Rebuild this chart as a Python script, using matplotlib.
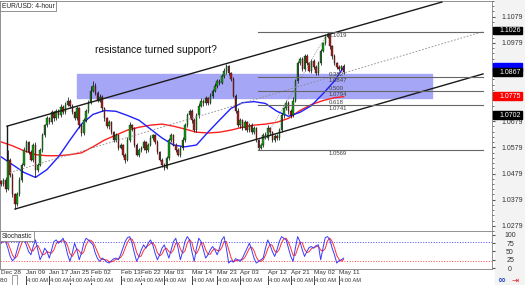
import numpy as np
import pandas as pd
import matplotlib
matplotlib.use("Agg")
import matplotlib.pyplot as plt
import matplotlib.transforms as mtransforms
from matplotlib.patches import Rectangle

plt.rcParams['font.family'] = ['Liberation Sans', 'DejaVu Sans']

# EUR/USD 4-hour closes (one per candle)
closes = [
    1.0438, 1.0456, 1.0419, 1.0532, 1.0475, 1.0400, 1.0362, 1.0400,
    1.0456, 1.0513, 1.0569, 1.0600, 1.0562, 1.0532, 1.0588, 1.0494,
    1.0513, 1.0569, 1.0626, 1.0664, 1.0690, 1.0675, 1.0713,
    1.0690, 1.0720, 1.0701, 1.0735, 1.0713, 1.0743, 1.0758,
    1.0739, 1.0713, 1.0690, 1.0728, 1.0664, 1.0634, 1.0683, 1.0720,
    1.0750, 1.0796, 1.0815, 1.0788, 1.0758, 1.0773,
    1.0728, 1.0690, 1.0660, 1.0675,
    1.0637, 1.0607, 1.0626, 1.0577, 1.0588, 1.0551, 1.0532,
    1.0607, 1.0664, 1.0652,
    1.0588, 1.0551, 1.0569,
    1.0577, 1.0600, 1.0569, 1.0588, 1.0615, 1.0626, 1.0600,
    1.0562, 1.0532, 1.0513, 1.0501,
    1.0539, 1.0607, 1.0626, 1.0588, 1.0569, 1.0551,
    1.0577, 1.0607, 1.0664, 1.0701,
    1.0720, 1.0683, 1.0645,
    1.0701, 1.0739, 1.0758, 1.0747, 1.0766, 1.0750,
    1.0777, 1.0796, 1.0815, 1.0833, 1.0826, 1.0852, 1.0871, 1.0890, 1.0864, 1.0841,
    1.0777, 1.0720, 1.0664,
    1.0683, 1.0652, 1.0675, 1.0645, 1.0664, 1.0637, 1.0652,
    1.0607, 1.0577, 1.0588,
    1.0626, 1.0615, 1.0652, 1.0637, 1.0607, 1.0622,
    1.0615, 1.0645, 1.0701, 1.0728,
    1.0750, 1.0720, 1.0701, 1.0758,
    1.0833, 1.0901,
    1.0916, 1.0879, 1.0928, 1.0901, 1.0871, 1.0909, 1.0886, 1.0864, 1.0901,
    1.0947, 1.0977, 1.1003, 1.1011,
    1.0965, 1.0928, 1.0901, 1.0886,
    1.0879, 1.0890, 1.0867,
]
first_open = 1.0450

# upper / lower wicks in pips
wick_hi = [6, 5, 8, 37, 7, 5, 6, 9, 8, 6,
           10, 7, 5, 8, 6, 12, 5, 9, 7, 6,
           8, 5, 10, 6, 7, 5, 9, 6, 8, 12,
           7, 5, 6, 9, 5, 4, 8, 7, 10, 18,
           18, 9, 6, 10, 5, 4, 7, 8, 6, 5,
           9, 6, 8, 5, 7, 10, 12, 6, 5, 8,
           7, 9, 6, 5, 8, 10, 6, 5, 7, 4,
           6, 5, 8, 9, 7, 5, 6, 8, 6, 10,
           8, 9, 6, 5, 7, 9, 8, 10, 6, 8,
           7, 9, 8, 10, 6, 9, 8, 11, 7, 6,
           5, 6, 5, 9, 8, 6, 10, 5, 8, 7,
           9, 6, 5, 8, 7, 10, 12, 6, 5, 8,
           7, 9, 8, 6, 10, 7, 6, 12, 9, 8,
           10, 8, 7, 9, 6, 8, 10, 7, 9, 8,
           7, 9, 8, 6, 7, 8, 5, 9, 6, 7]
wick_lo = [8, 6, 10, 5, 9, 12, 19, 7, 6, 8,
           5, 9, 7, 6, 10, 27, 8, 5, 7, 9,
           6, 8, 5, 9, 7, 10, 6, 8, 5, 7,
           9, 6, 8, 5, 10, 12, 7, 6, 8, 5,
           6, 9, 7, 5, 8, 10, 6, 9, 7, 8,
           6, 10, 5, 8, 12, 7, 6, 9, 8, 6,
           9, 7, 8, 10, 6, 5, 8, 9, 7, 6,
           8, 10, 6, 9, 7, 5, 8, 6, 9, 7,
           6, 8, 10, 12, 6, 7, 9, 5, 8, 6,
           7, 5, 8, 6, 9, 7, 5, 6, 10, 8,
           9, 7, 8, 6, 10, 7, 5, 9, 8, 6,
           7, 8, 8, 6, 9, 5, 7, 10, 6, 8,
           6, 9, 7, 8, 5, 12, 9, 6, 7, 8,
           8, 6, 9, 7, 5, 8, 6, 9, 7, 6,
           5, 7, 6, 8, 10, 6, 7, 9, 5, 6]

# moving averages, read every 5 candles
ma_idx = [0, 5, 10, 15, 20, 25, 30, 35, 40, 45, 50, 55, 60, 65, 70, 75,
          80, 85, 90, 95, 100, 105, 110, 115, 120, 125, 130, 135, 140, 145, 149]
blue_ma = [1.0543, 1.0513, 1.0483, 1.0464, 1.0494, 1.0543, 1.0607, 1.0668,
           1.0705, 1.0720, 1.0717, 1.0701, 1.0683, 1.0649, 1.0615, 1.0588,
           1.0581, 1.0588, 1.0637, 1.0683, 1.0728, 1.0750, 1.0754, 1.0747,
           1.0717, 1.0698, 1.0713, 1.0739, 1.0784, 1.0833, 1.0886]
red_ma = [1.0600, 1.0585, 1.0566, 1.0551, 1.0547, 1.0547, 1.0551, 1.0558,
          1.0581, 1.0607, 1.0626, 1.0645, 1.0656, 1.0664, 1.0668, 1.0660,
          1.0649, 1.0637, 1.0634, 1.0637, 1.0645, 1.0656, 1.0664, 1.0668,
          1.0675, 1.0690, 1.0720, 1.0743, 1.0758, 1.0769, 1.0773]

# stochastic %K
stoch_k = [75, 85, 80, 60, 35, 22, 30, 55, 80, 90,
           88, 70, 50, 40, 65, 85, 55, 25, 40, 60,
           50, 30, 55, 80, 85, 75, 82, 90, 70, 40,
           20, 45, 75, 55, 25, 45, 75, 90, 85, 78,
           70, 45, 28, 20, 30, 25, 18, 15, 22, 28,
           30, 25, 40, 60, 80, 92, 95, 75, 45, 20,
           35, 55, 70, 60, 75, 85, 70, 45, 25, 40,
           60, 70, 50, 30, 55, 80, 90, 60, 25, 50,
           80, 95, 85, 50, 20, 60, 90, 80, 55, 30,
           40, 55, 65, 55, 40, 60, 85, 95, 60, 15,
           22, 18, 28, 25, 20, 30, 45, 60, 75, 55,
           30, 15, 20, 25, 30, 60, 85, 70, 50, 35,
           55, 80, 95, 90, 85, 60, 35, 20, 60, 95,
           80, 55, 35, 50, 62, 65, 60, 68, 70, 25,
           60, 92, 95, 85, 60, 40, 15, 22, 25, 30]

fib_levels = [1.1019, 1.0847, 1.0794, 1.0741, 1.0569]
fib_names = ['', '0.382', '0.500', '0.618', '']
zone_lo, zone_hi = 1.0766, 1.0860

price_ticks = [1.0279, 1.0379, 1.0479, 1.0579, 1.0679, 1.0779, 1.0879, 1.0979, 1.1079]
# 1.0779 / 1.0879 sit behind the price tags in the reference
price_tick_labels = ['1.0279', '1.0379', '1.0479', '1.0579', '1.0679', '', '', '1.0979', '1.1079']
tags = [(1.1026, 'black'), (1.0887, 'blue'), (1.0867, 'black'), (1.0775, 'red'), (1.0702, 'black')]

date_labels = ['Dec 28', 'Jan 09', 'Jan 17', 'Jan 25', 'Feb 02', 'Feb 13', 'Feb 22', 'Mar 03',
               'Mar 14', 'Mar 23', 'Apr 03', 'Apr 12', 'Apr 21', 'May 02', 'May 11']
date_pos = [0, 11, 21, 30, 39, 52, 61, 71, 83, 94, 104, 116, 126, 136, 147]

W, H = 525, 285


def fr(x0, y0, x1, y1):
    return [x0 / W, 1 - y1 / H, (x1 - x0) / W, (y1 - y0) / H]


fig = plt.figure(figsize=(W / 100, H / 100), dpi=100)
fig.patches.append(Rectangle((495 / W, 0), 30 / W, 1, transform=fig.transFigure,
                             color='#f3f3f3', zorder=-5))
ax = fig.add_axes(fr(0, 1, 492, 231))
ax2 = fig.add_axes(fr(0, 231, 492, 269))
xlim = (-0.43, 213.5)

# ---- price panel
n = len(closes)
idx = np.arange(n)
opens = np.array([first_open] + closes[:-1])
cl = np.array(closes)
top = np.maximum(opens, cl)
bot = np.minimum(opens, cl)
highs = top + np.array(wick_hi) * 1e-4
lows = bot - np.array(wick_lo) * 1e-4
up = cl >= opens

ax.add_patch(Rectangle((32.9, zone_lo), 154.7, zone_hi - zone_lo,
                       color='#a6a6f6', zorder=0))
ax.plot(ma_idx, red_ma, color='#ff2020', lw=1.0, zorder=2)
ax.plot(ma_idx, blue_ma, color='#2020ff', lw=1.0, zorder=2)
ax.vlines(idx, lows, highs, color='black', lw=0.5, zorder=3)
ax.bar(idx, np.maximum(top - bot, 0.00025), bottom=bot, width=0.65,
       color=np.where(up, '#11a011', '#b02020'), edgecolor='black', linewidth=0.25, zorder=3.1)

# channel
ax.plot([2.6, 191.7], [1.0660, 1.1135], color='#1a1a1a', lw=1.0, zorder=4)
ax.plot([6.1, 209.6], [1.0343, 1.0860], color='#1a1a1a', lw=1.0, zorder=4)
ax.plot([2.6, 2.6], [1.0660, 1.0532], color='#1a1a1a', lw=1.0, zorder=4)
ax.plot([3.9, 209.6], [1.0483, 1.1022], color='#8a8a8a', lw=0.6, ls=(0, (2, 2)), zorder=4)

# fibonacci
ax.plot([111.7, 142.2], [1.0569, 1.1019], color='#888888', lw=0.5, ls=(0, (1.5, 1.5)), zorder=4)
for lvl, name in zip(fib_levels, fib_names):
    ax.plot([111.7, 209.6], [lvl, lvl], color='#666666', lw=0.8, zorder=4)
    ax.text(142.4, lvl - 0.0003, f'{lvl:.4f}', fontsize=4.3, color='#404040',
            va='top', ha='left', zorder=5)
    if name:
        ax.text(142.4, lvl + 0.0002, name, fontsize=4.3, color='#404040',
                va='bottom', ha='left', zorder=5)

ax.set_xlim(*xlim)
ax.set_ylim(1.02639, 1.11318)
ax.yaxis.tick_right()
ax.set_yticks(price_ticks)
ax.set_yticklabels(price_tick_labels)
ax.set_yticks([1.0259 + 0.002 * k for k in range(45)], minor=True)
ax.tick_params(axis='y', which='major', labelsize=5, length=2.5, pad=4.5,
               color='#555555', labelcolor='#333333')
ax.tick_params(axis='y', which='minor', length=1.5, color='#555555')
ax.set_xticks([])
for s in ax.spines.values():
    s.set_color('#808080')
    s.set_linewidth(0.6)

tr = mtransforms.blended_transform_factory(fig.transFigure, ax.transData)
for z, (price, col) in enumerate(tags):
    ax.add_patch(Rectangle((493 / W, price - 0.0015), 29 / W, 0.0030, transform=tr,
                           color=col, clip_on=False, zorder=6 + 2 * z))
    if col != 'blue':
        ax.text(499 / W, price, f'{price:.4f}', transform=tr, fontsize=5, color='white',
                va='center', ha='left', clip_on=False, zorder=7 + 2 * z)

fig.text(95 / W, 1 - 50 / H, 'resistance turned support?', fontsize=7.4, va='center', color='#111111')
fig.text(2 / W, 1 - 6 / H, 'EUR/USD: 4-hour', fontsize=4.8, va='center', color='#222222',
         bbox=dict(boxstyle='square,pad=0.25', fc='white', ec='#808080', lw=0.6))

# ---- stochastic panel
k = pd.Series(stoch_k, dtype=float)
d = k.rolling(3, min_periods=1).mean()
ax2.axhline(80, color='#6060ff', lw=0.7, ls=(0, (1.2, 1.5)))
ax2.axhline(20, color='#ff6060', lw=0.7, ls=(0, (1.2, 1.5)))
ax2.plot(idx, d, color='#ff3030', lw=0.7)
ax2.plot(idx, k, color='#3a3aff', lw=0.7)
ax2.set_xlim(*xlim)
ax2.set_ylim(-3, 112)
ax2.yaxis.tick_right()
ax2.set_yticks([0, 25, 50, 75, 100])
ax2.tick_params(axis='y', labelsize=5, length=2, pad=11, color='#555555', labelcolor='#333333')
for lab in ax2.get_yticklabels():
    lab.set_ha('center')
ax2.set_xticks(date_pos)
ax2.set_xticklabels(date_labels, fontsize=4.6, color='#333333', ha='left')
ax2.tick_params(axis='x', length=0, pad=0.5)
for s in ax2.spines.values():
    s.set_color('#808080')
    s.set_linewidth(0.6)
fig.text(2 / W, 1 - 236 / H, 'Stochastic', fontsize=4.8, va='center', color='#222222',
         bbox=dict(boxstyle='square,pad=0.25', fc='white', ec='#808080', lw=0.6))

# time row with separators
tb = mtransforms.blended_transform_factory(ax2.transData, fig.transFigure)
y_time = 1 - 280 / H
ax2.text(-0.4, y_time, '8:0', transform=tb, fontsize=4.3, color='#333333',
         va='center', ha='left', clip_on=False)
fig.patches.append(Rectangle((12 / W, 1 - 285 / H), 5 / W, 10 / H, transform=fig.transFigure,
                             fc='white', ec='#777777', lw=0.5))
for p in date_pos[1:]:
    ax2.text(p + 0.5, y_time, '4:00 AM', transform=tb, fontsize=4.1, color='#333333',
             va='center', ha='left', clip_on=False,
             bbox=dict(boxstyle='square,pad=0.02', fc='white', ec='none'))
    ax2.plot([p, p], [1 - 276 / H, 1 - 285 / H], transform=tb, color='#222222',
             lw=0.6, clip_on=False)

fig.text(497 / W, y_time, '∞', fontsize=7, color='#2050c0', va='center', fontweight='bold',
         family='DejaVu Sans')
fig.text(512 / W, y_time, '⇥', fontsize=6, color='#e02020', va='center', family='DejaVu Sans')

fig.savefig('out.png', dpi=100)
